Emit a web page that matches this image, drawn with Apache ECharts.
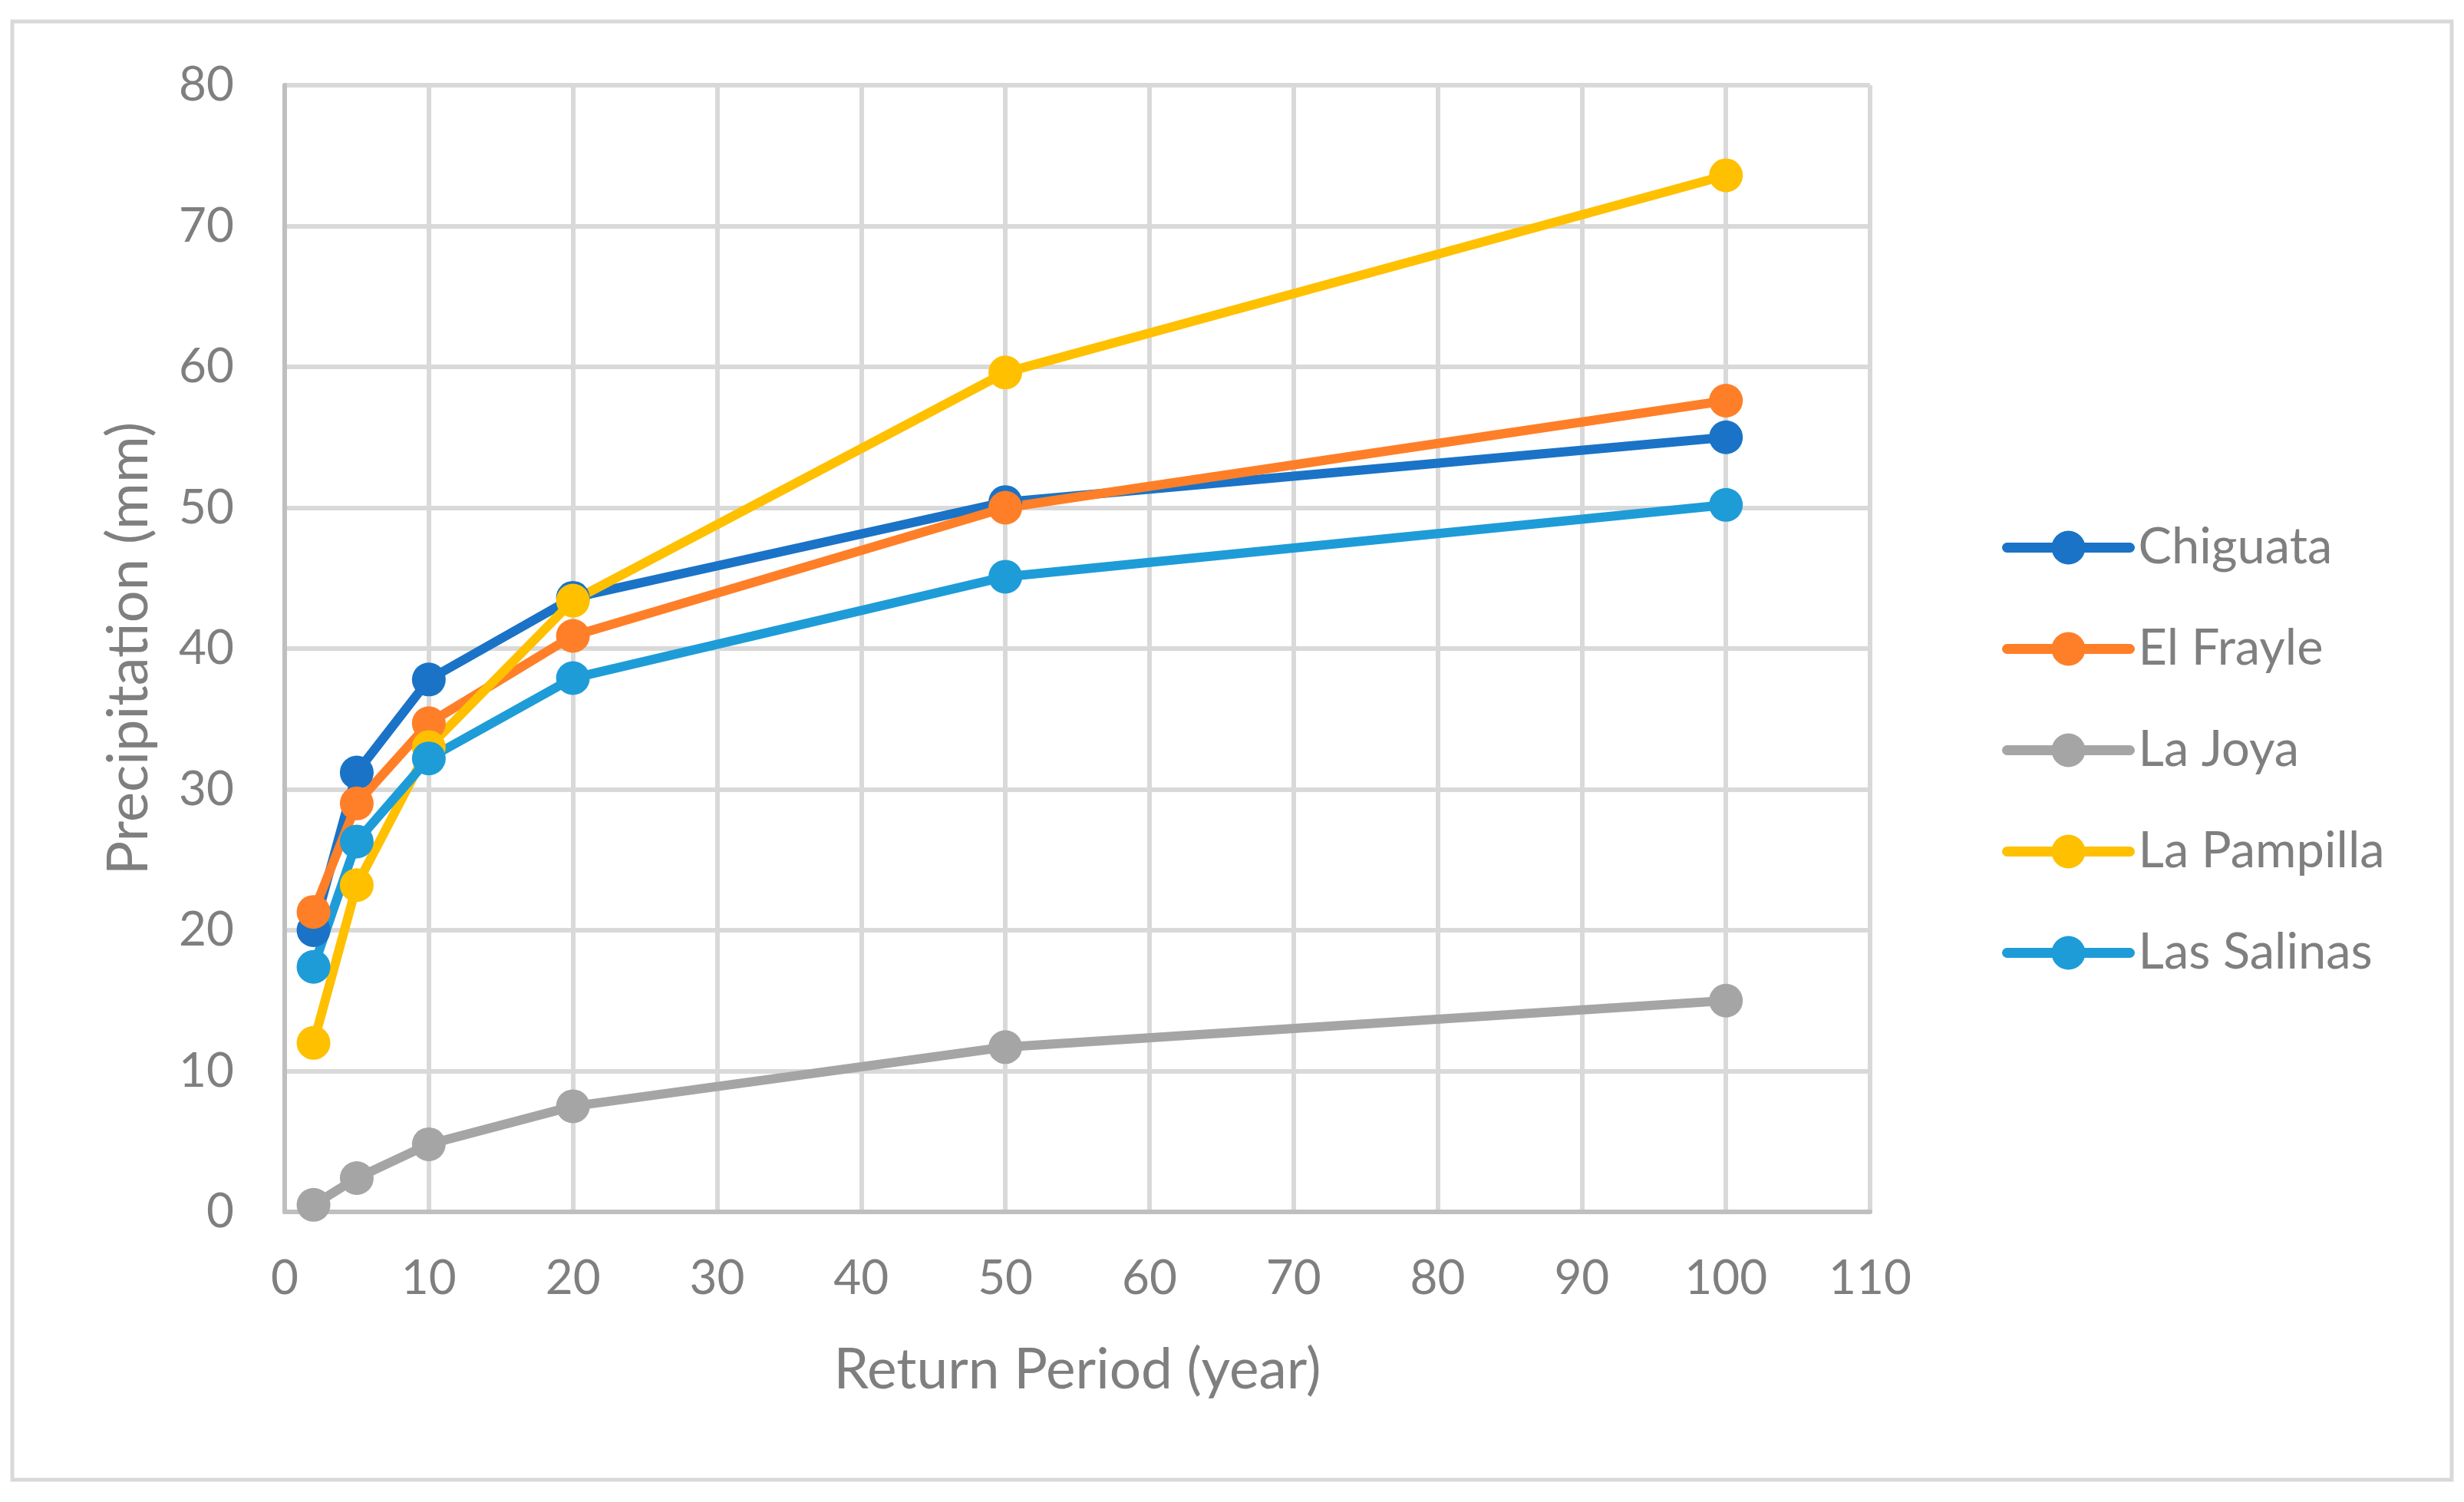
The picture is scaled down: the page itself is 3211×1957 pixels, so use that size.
<!DOCTYPE html>
<html>
<head>
<meta charset="utf-8">
<script src="https://cdn.jsdelivr.net/npm/echarts@6/dist/echarts.min.js"></script>
<style>
  html, body { margin: 0; padding: 0; background: #ffffff; }
  #chart { width: 3211px; height: 1957px; }
</style>
</head>
<body>
<div id="chart"></div>
<script>
// Return periods (years)
const returnPeriods = [2, 5, 10, 20, 50, 100];

// Precipitation (mm) per station
const chiguata   = [20.0, 31.2, 37.8, 43.6, 50.4, 55.0];
const elFrayle   = [21.3, 29.0, 34.7, 40.9, 50.0, 57.6];
const laJoya     = [0.5, 2.4, 4.8, 7.5, 11.7, 15.0];
const laPampilla = [12.0, 23.2, 33.0, 43.4, 59.6, 73.6];
const lasSalinas = [17.4, 26.3, 32.2, 37.9, 45.1, 50.2];

const seriesNames = ['Chiguata', 'El Frayle', 'La Joya', 'La Pampilla', 'Las Salinas'];
const seriesValues = [chiguata, elFrayle, laJoya, laPampilla, lasSalinas];
const seriesColors = ['#1a73c6', '#fe7f28', '#a5a5a5', '#ffc000', '#1e9cd8'];

const xAxisTitle = 'Return Period (year)';
const yAxisTitle = 'Precipitation (mm)';

const FONT = 'Lato, Carlito, Calibri, "Open Sans", sans-serif';
const TEXT = '#7f7f7f';

const chart = echarts.init(document.getElementById('chart'), null, { renderer: 'canvas' });

const series = seriesNames.map((name, i) => ({
  name: name,
  type: 'line',
  data: returnPeriods.map((t, j) => [t, seriesValues[i][j]]),
  symbol: 'circle',
  symbolSize: 44,
  color: seriesColors[i],
  lineStyle: { width: 12, color: seriesColors[i], cap: 'round', join: 'round' },
  itemStyle: { color: seriesColors[i] },
  emphasis: { disabled: true },
  animation: false
}));

chart.setOption({
  backgroundColor: '#ffffff',
  animation: false,
  textStyle: { fontFamily: FONT },
  graphic: [{
    type: 'rect',
    shape: { x: 16, y: 28, width: 3179, height: 1900 },
    style: { fill: 'none', stroke: '#d9d9d9', lineWidth: 5 },
    silent: true,
    z: -10
  }],
  grid: { left: 371, right: 774, top: 111, bottom: 378, containLabel: false },
  legend: {
    orient: 'vertical',
    left: 2604,
    top: 676,
    itemWidth: 160,
    itemHeight: 55,
    itemGap: 67,
    data: seriesNames,
    lineStyle: { width: 13, cap: 'round' },
    textStyle: { fontFamily: FONT, fontSize: 65, color: TEXT, padding: [0, 0, 0, 6] }
  },
  xAxis: {
    type: 'value',
    min: 0,
    max: 110,
    interval: 10,
    name: xAxisTitle,
    nameLocation: 'middle',
    nameGap: 170,
    nameTextStyle: { fontFamily: FONT, fontSize: 73, color: TEXT },
    axisLine: { show: true, lineStyle: { color: '#bfbfbf', width: 6 } },
    axisTick: { show: false },
    axisLabel: { fontFamily: FONT, fontSize: 62, color: TEXT, margin: 56 },
    splitLine: { show: true, lineStyle: { color: '#d9d9d9', width: 6 } }
  },
  yAxis: {
    type: 'value',
    min: 0,
    max: 80,
    interval: 10,
    name: yAxisTitle,
    nameLocation: 'middle',
    nameGap: 166,
    nameTextStyle: { fontFamily: FONT, fontSize: 74, color: TEXT },
    axisLine: { show: true, lineStyle: { color: '#bfbfbf', width: 6 } },
    axisTick: { show: false },
    axisLabel: { fontFamily: FONT, fontSize: 62, color: TEXT, margin: 66 },
    splitLine: { show: true, lineStyle: { color: '#d9d9d9', width: 6 } }
  },
  series: series
});
</script>
</body>
</html>
